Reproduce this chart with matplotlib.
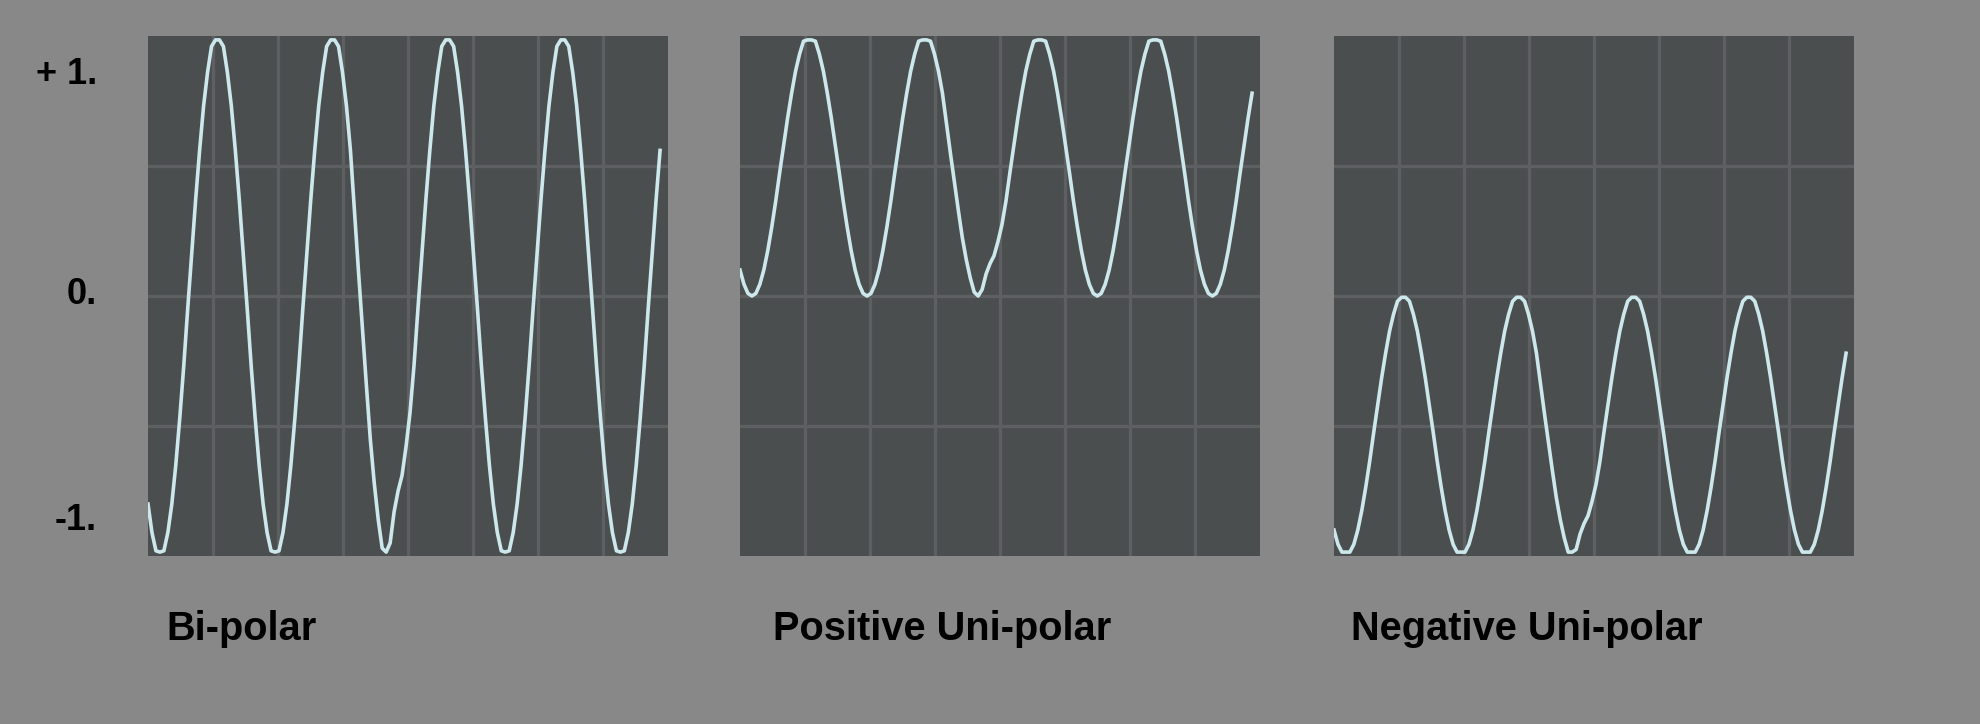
import numpy as np
import matplotlib
matplotlib.use("Agg")
import matplotlib.pyplot as plt

bipolar = [
    -0.80, -0.91, -0.98, -1.00, -0.98, -0.91, -0.80, -0.65, -0.47, -0.27,
    -0.05, 0.16, 0.37, 0.56, 0.73, 0.86, 0.96, 0.99, 0.99, 0.96,
    0.86, 0.73, 0.56, 0.37, 0.16, -0.05, -0.27, -0.47, -0.65, -0.80,
    -0.91, -0.98, -1.00, -0.98, -0.91, -0.80, -0.65, -0.47, -0.27, -0.05,
    0.16, 0.37, 0.56, 0.73, 0.86, 0.96, 0.99, 0.99, 0.96, 0.86,
    0.73, 0.56, 0.33, 0.10, -0.12, -0.34, -0.55, -0.72, -0.86, -0.97,
    -1.00, -0.95, -0.83, -0.75, -0.69, -0.58, -0.45, -0.27, -0.05, 0.16,
    0.37, 0.56, 0.73, 0.86, 0.96, 0.99, 0.99, 0.96, 0.86, 0.73,
    0.56, 0.37, 0.16, -0.05, -0.27, -0.47, -0.65, -0.80, -0.91, -0.98,
    -1.00, -0.98, -0.91, -0.80, -0.65, -0.47, -0.27, -0.05, 0.16, 0.37,
    0.56, 0.73, 0.86, 0.96, 0.99, 0.99, 0.96, 0.86, 0.73, 0.56,
    0.37, 0.16, -0.05, -0.27, -0.47, -0.65, -0.80, -0.91, -0.98, -1.00,
    -0.98, -0.91, -0.80, -0.65, -0.47, -0.27, -0.05, 0.16, 0.37, 0.56,
]
titles = ["Bi-polar", "Positive Uni-polar", "Negative Uni-polar"]
level_labels = ["+ 1.", "0.", "-1."]

FIG_BG = "#888888"
PANEL_BG = "#4a4e4e"
GRID = "#5e5f63"
TRACE = "#cde8ec"
FONT = "Liberation Sans"

W, H = 1980, 724
N = 131                 # scope width in samples
CLIP = 0.985            # trace flattens just inside the frame

bi = np.array(bipolar)
x = np.arange(len(bi))
waves = [bi, (bi + 1) / 2, (bi - 1) / 2]

fig = plt.figure(figsize=(W / 100, H / 100), dpi=100, facecolor=FIG_BG)

lefts = [148, 740, 1334]
title_x = [166, 773, 1351]
for left, tx, y, title in zip(lefts, title_x, waves, titles):
    ax = fig.add_axes([left / W, (H - 556) / H, 520 / W, 520 / H])
    ax.set_facecolor(PANEL_BG)
    ax.set_xlim(0, N)
    ax.set_ylim(-1, 1)
    for gx in np.arange(1, 8) * N / 8:
        ax.axvline(gx, color=GRID, lw=2.4, zorder=1)
    for gy in (-0.5, 0, 0.5):
        ax.axhline(gy, color=GRID, lw=2.4, zorder=1)
    ax.plot(x, np.clip(y, -CLIP, CLIP), color=TRACE, lw=2.6, zorder=3)
    ax.set_xticks([]); ax.set_yticks([])
    for s in ax.spines.values():
        s.set_visible(False)
    fig.text(tx / W, 1 - 640 / H, title, family=FONT, weight="bold",
             fontsize=28.6, ha="left", va="baseline")

for lab, py in zip(level_labels, [74, 295, 520]):
    fig.text(97 / W, 1 - py / H, lab, family=FONT, weight="bold",
             fontsize=26, ha="right", va="center")

fig.savefig("out.png", dpi=100, facecolor=FIG_BG)
